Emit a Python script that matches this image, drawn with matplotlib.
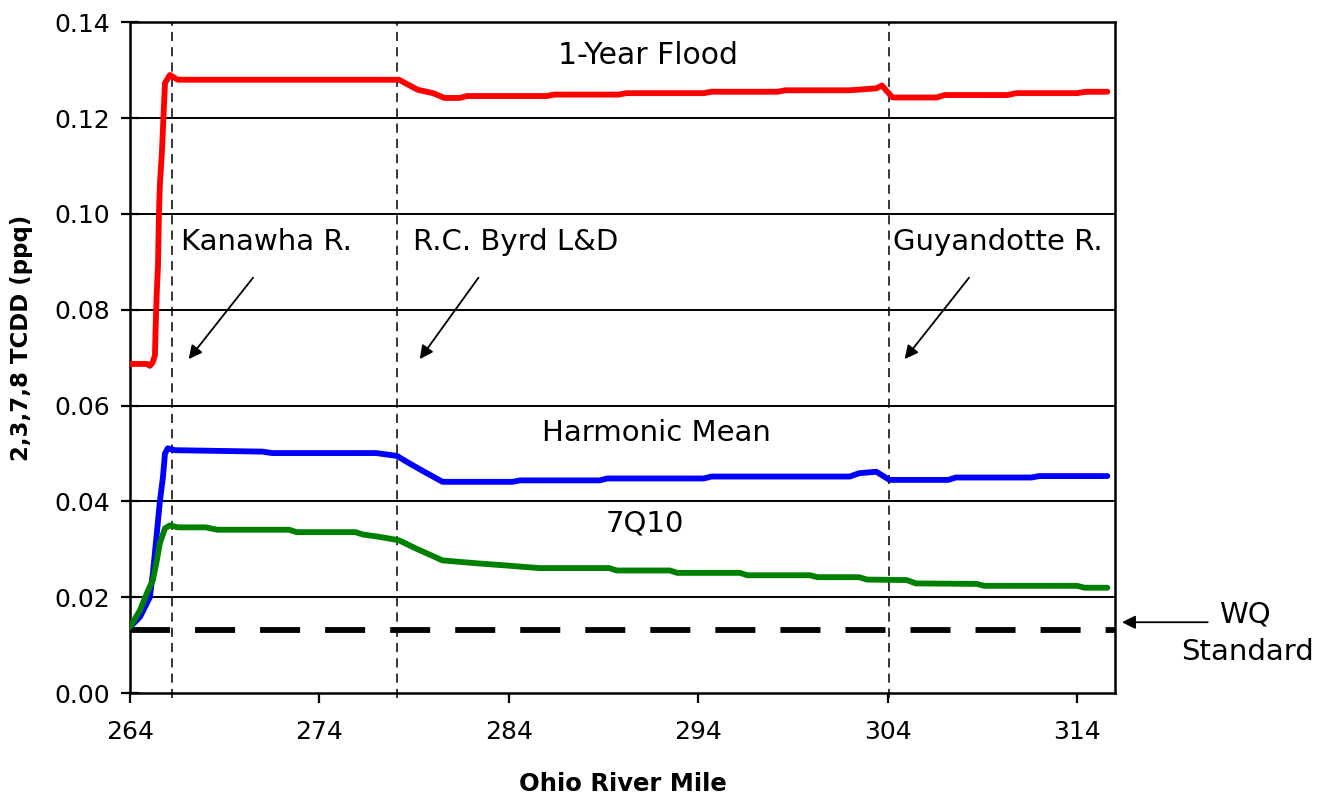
import numpy as np
import matplotlib
matplotlib.use('Agg')
import matplotlib.pyplot as plt

plt.rcParams['font.family'] = ['DejaVu Sans']

# river miles / concentrations (ppq)
flood_mile = [264.0, 264.9, 265.05, 265.2, 265.32, 265.37, 265.42, 265.48, 265.53,
              265.58, 265.69, 265.74, 265.85, 266.11, 266.53, 278.2, 279.2, 280.0,
              280.6, 281.4, 281.8, 286.0, 286.4, 289.8, 290.2, 294.3, 294.7, 298.2,
              298.6, 302.0, 303.4, 303.7, 304.25, 306.6, 307.0, 310.3, 310.8, 314.0,
              314.5, 315.6]
flood_val = [0.0687, 0.0687, 0.0683, 0.0690, 0.0705, 0.0780, 0.0840, 0.0890, 0.0997,
             0.1060, 0.1130, 0.1175, 0.1273, 0.1290, 0.1280, 0.1280, 0.1259, 0.1252,
             0.1242, 0.1242, 0.1246, 0.1246, 0.1249, 0.1249, 0.1252, 0.1252, 0.1255,
             0.1255, 0.1258, 0.1258, 0.1262, 0.1268, 0.1243, 0.1243, 0.1248, 0.1248,
             0.1252, 0.1252, 0.1255, 0.1255]

hm_mile = [264.0, 264.53, 265.05, 265.21, 265.42, 265.58, 265.74, 265.85, 266.0,
           266.37, 271.0, 271.5, 277.0, 278.1, 278.6, 279.4, 280.5, 284.2, 284.6,
           288.8, 289.2, 294.3, 294.7, 302.0, 302.5, 303.4, 304.1, 307.2, 307.6,
           311.6, 312.0, 315.6]
hm_val = [0.0138, 0.0159, 0.0200, 0.0250, 0.0334, 0.0400, 0.0450, 0.0500, 0.0511,
          0.0507, 0.0504, 0.0501, 0.0501, 0.0495, 0.0483, 0.0465, 0.0441, 0.0441, 0.0444,
          0.0444, 0.0448, 0.0448, 0.0452, 0.0452, 0.0459, 0.0462, 0.0445, 0.0445, 0.0450,
          0.0450, 0.0453, 0.0453]

q710_mile = [264.0, 264.53, 264.9, 265.21, 265.42, 265.58, 265.85, 266.11, 266.53,
             268.0, 268.6, 272.4, 272.8, 275.9, 276.3, 277.2, 278.2, 279.2, 280.5,
             282.3, 284.0, 285.6, 289.3, 289.7, 292.5, 292.9, 296.2, 296.6, 299.9,
             300.3, 302.5, 302.9, 305.0, 305.5, 308.7, 309.1, 314.0, 314.4, 315.6]
q710_val = [0.0138, 0.0173, 0.0209, 0.0236, 0.0277, 0.0313, 0.0344, 0.0350, 0.0346,
            0.0346, 0.0341, 0.0341, 0.0336, 0.0336, 0.0331, 0.0326, 0.0319, 0.0300, 0.0277,
            0.0271, 0.0266, 0.0261, 0.0261, 0.0256, 0.0256, 0.0251, 0.0251, 0.0246, 0.0246,
            0.0242, 0.0242, 0.0237, 0.0236, 0.0229, 0.0228, 0.0224, 0.0224, 0.0220, 0.0220]

wq_standard = 0.0131
trib_miles = [266.2, 278.1, 304.05]
trib_names = ['Kanawha R.', 'R.C. Byrd L&D', 'Guyandotte R.']

fig = plt.figure(figsize=(13.3, 7.94), dpi=100)
ax = fig.add_axes([0.0977, 0.127, 0.7406, 0.845])

for y in np.arange(0.02, 0.14, 0.02):
    ax.axhline(y, color='k', lw=1.4, zorder=1)

for m in trib_miles:
    ax.plot([m, m], [-0.001, 0.14], color='k', lw=1.1, ls=(0, (6, 4)), zorder=2,
            clip_on=False)

ax.axhline(wq_standard, color='k', lw=4.2, dashes=(6.86, 4.29), zorder=3)

ax.plot(flood_mile, flood_val, color='#ff0000', lw=4.2, zorder=4, solid_capstyle='round')
ax.plot(hm_mile, hm_val, color='#0000ff', lw=4.2, zorder=4, solid_capstyle='round')
ax.plot(q710_mile, q710_val, color='#008000', lw=4.2, zorder=4, solid_capstyle='round')

ax.set_xlim(264, 316)
ax.set_ylim(0, 0.14)
ax.set_xticks(np.arange(264, 316, 10))
ax.set_yticks(np.arange(0, 0.141, 0.02))
ax.yaxis.set_major_formatter(matplotlib.ticker.FormatStrFormatter('%.2f'))
ax.tick_params(axis='x', direction='out', length=7.5, width=1.6, labelsize=18, pad=12)
ax.tick_params(axis='y', direction='inout', length=13, width=1.6, labelsize=18, pad=8)
for s in ax.spines.values():
    s.set_linewidth(1.8)

ax.set_xlabel('Ohio River Mile', fontsize=17.5, fontweight='bold')
ax.xaxis.set_label_coords(0.5, -0.118)
ax.set_ylabel('2,3,7,8 TCDD (ppq)', fontsize=16.5, fontweight='bold')
ax.yaxis.set_label_coords(-0.098, 0.529)

ax.text(291.35, 0.1331, '1-Year Flood', fontsize=21.5, ha='center', va='center')
ax.text(291.8, 0.0542, 'Harmonic Mean', fontsize=21, ha='center', va='center')
ax.text(291.2, 0.0355, '7Q10', fontsize=21, ha='center', va='center')

label_pos = [(266.7, 0.0941), (278.95, 0.0941), (304.3, 0.0941)]
arrow_from = [(270.5, 0.0867), (282.4, 0.0867), (308.3, 0.0867)]
arrow_to = [(267.1, 0.0697), (279.3, 0.0697), (304.9, 0.0697)]
for name, lp, af, at in zip(trib_names, label_pos, arrow_from, arrow_to):
    ax.text(lp[0], lp[1], name, fontsize=21, ha='left', va='center')
    ax.annotate('', xy=at, xytext=af,
                arrowprops=dict(arrowstyle='-|>', color='k', lw=1.3,
                                mutation_scale=20, shrinkA=0, shrinkB=0))

ax.annotate('', xy=(316.37, 0.0148), xytext=(320.9, 0.0148),
            xycoords='data', annotation_clip=False,
            arrowprops=dict(arrowstyle='-|>', color='k', lw=1.3,
                            mutation_scale=20, shrinkA=0, shrinkB=0))
fig.text(0.936, 0.2267, 'WQ', fontsize=21, ha='center', va='center')
fig.text(0.938, 0.179, 'Standard', fontsize=21, ha='center', va='center')

fig.savefig('out.png', dpi=100)
